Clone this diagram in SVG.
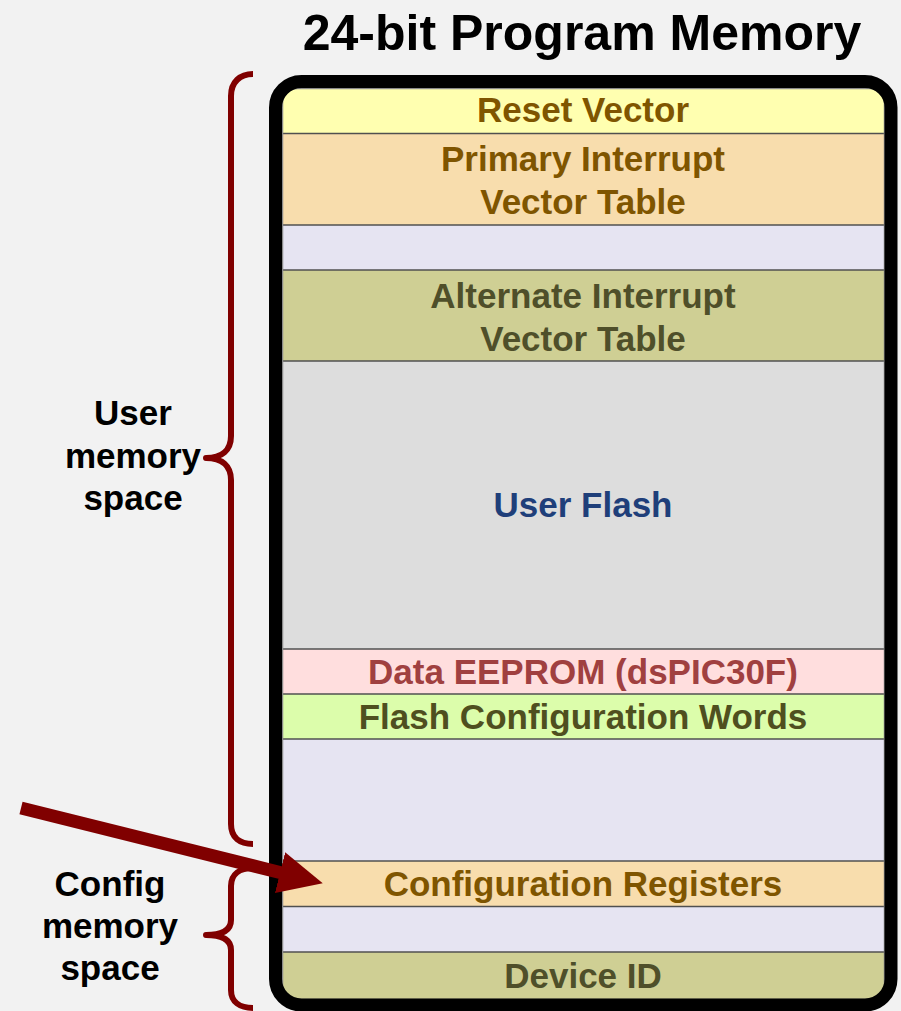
<svg xmlns="http://www.w3.org/2000/svg" width="901" height="1011" viewBox="0 0 901 1011">
  <style>
    text { font-family: "Liberation Sans", Arial, sans-serif; font-weight: bold; text-anchor: middle; }
    .band-text { font-size: 35px; }
    .side { font-size: 35px; fill: #000; }
    .title { font-size: 50px; fill: #000; }
    .sep { stroke: #505050; stroke-width: 1.5; }
    .brace { fill: none; stroke: #800000; stroke-width: 6; stroke-linecap: butt; stroke-linejoin: round; }
  </style>
  <defs>
    <clipPath id="memClip">
      <rect x="282" y="88" width="603" height="912" rx="16" ry="16"/>
    </clipPath>
    <marker id="arrowHead" markerUnits="userSpaceOnUse" markerWidth="44" markerHeight="42" viewBox="0 0 44 42" refX="2" refY="21" orient="auto">
      <path d="M0,0 L44,21 L0,42 z" fill="#800000"/>
    </marker>
  </defs>

  <rect x="0" y="0" width="901" height="1011" fill="#F2F2F2"/>

  <text class="title" x="582" y="50">24-bit Program Memory</text>

  <!-- memory map bands -->
  <g clip-path="url(#memClip)">
    <g id="reset-vector">
      <rect x="282" y="88" width="603" height="46" fill="#FFFFB0"/>
      <text class="band-text" x="583" y="122" fill="#7F5500">Reset Vector</text>
    </g>
    <g id="primary-ivt">
      <rect x="282" y="134" width="603" height="91" fill="#F8DDAD"/>
      <text class="band-text" x="583" y="171" fill="#7F5500">Primary Interrupt</text>
      <text class="band-text" x="583" y="214" fill="#7F5500">Vector Table</text>
    </g>
    <g id="reserved-1">
      <rect x="282" y="225" width="603" height="45" fill="#E6E4F2"/>
    </g>
    <g id="alternate-ivt">
      <rect x="282" y="270" width="603" height="91" fill="#CFCF94"/>
      <text class="band-text" x="583" y="308" fill="#4F4F2A">Alternate Interrupt</text>
      <text class="band-text" x="583" y="351" fill="#4F4F2A">Vector Table</text>
    </g>
    <g id="user-flash">
      <rect x="282" y="361" width="603" height="288" fill="#DDDDDD"/>
      <text class="band-text" x="583" y="517" fill="#1F3F7A">User Flash</text>
    </g>
    <g id="data-eeprom">
      <rect x="282" y="649" width="603" height="45" fill="#FFDEDE"/>
      <text class="band-text" x="583" y="684" fill="#A04040">Data EEPROM (dsPIC30F)</text>
    </g>
    <g id="flash-config-words">
      <rect x="282" y="694" width="603" height="45" fill="#DCFDAB"/>
      <text class="band-text" x="583" y="729" fill="#4F4F1F">Flash Configuration Words</text>
    </g>
    <g id="reserved-2">
      <rect x="282" y="739" width="603" height="122" fill="#E6E4F2"/>
    </g>
    <g id="config-registers">
      <rect x="282" y="861" width="603" height="46" fill="#F8DDAD"/>
      <text class="band-text" x="583" y="896" fill="#7F5500">Configuration Registers</text>
    </g>
    <g id="reserved-3">
      <rect x="282" y="907" width="603" height="45" fill="#E6E4F2"/>
    </g>
    <g id="device-id">
      <rect x="282" y="952" width="603" height="48" fill="#CFCF94"/>
      <text class="band-text" x="583" y="988" fill="#4F4F2A">Device ID</text>
    </g>

    <!-- band separators -->
    <g id="separators">
      <line class="sep" x1="282" y1="133.5" x2="885" y2="133.5"/>
      <line class="sep" x1="282" y1="225" x2="885" y2="225"/>
      <line class="sep" x1="282" y1="270" x2="885" y2="270"/>
      <line class="sep" x1="282" y1="361" x2="885" y2="361"/>
      <line class="sep" x1="282" y1="649" x2="885" y2="649"/>
      <line class="sep" x1="282" y1="694" x2="885" y2="694"/>
      <line class="sep" x1="282" y1="739" x2="885" y2="739"/>
      <line class="sep" x1="282" y1="861" x2="885" y2="861"/>
      <line class="sep" x1="282" y1="906.5" x2="885" y2="906.5"/>
      <line class="sep" x1="282" y1="952" x2="885" y2="952"/>
    </g>
  </g>

  <!-- outer frame -->
  <g id="frame">
    <rect x="282.5" y="88.5" width="602" height="911" rx="15" ry="15" fill="none" stroke="#8A8A8A" stroke-width="1.5"/>
    <rect x="275.5" y="81.5" width="615.5" height="923.5" rx="26" ry="26" fill="none" stroke="#000" stroke-width="13"/>
  </g>

  <!-- side labels -->
  <g id="user-space-label">
    <text class="side" x="133" y="425">User</text>
    <text class="side" x="133" y="468">memory</text>
    <text class="side" x="133" y="510">space</text>
  </g>
  <g id="config-space-label">
    <text class="side" x="110" y="896">Config</text>
    <text class="side" x="110" y="938">memory</text>
    <text class="side" x="110" y="980">space</text>
  </g>

  <g id="connectors">
    <!-- brace spanning user memory space -->
    <path class="brace" d="M253,74 C240,74 231,82 231,96 L231,436 C231,450 222,458 206,458 C222,458 231,466 231,480 L231,824 C231,838 240,844 253,844"/>
    <!-- brace spanning config memory space -->
    <path class="brace" d="M253,868 C240,868 231,874 231,886 L231,920 C231,930 222,935 206,935 C222,935 231,940 231,950 L231,990 C231,1002 240,1008 253,1008"/>
    <!-- pointer to configuration registers -->
    <line x1="21" y1="808" x2="282" y2="873" stroke="#800000" stroke-width="13" marker-end="url(#arrowHead)"/>
  </g>
</svg>
